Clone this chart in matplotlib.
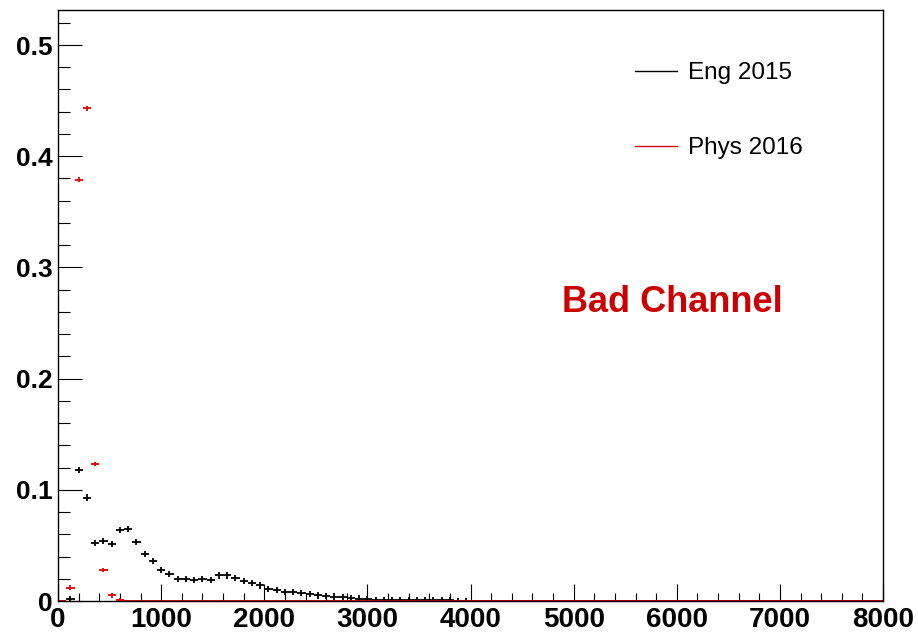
import matplotlib
matplotlib.use('Agg')
import matplotlib.pyplot as plt
from matplotlib.ticker import MultipleLocator, FuncFormatter
from matplotlib.lines import Line2D
import numpy as np

plt.rcParams['font.family'] = ['Liberation Sans', 'DejaVu Sans']

# histogram binning: 100 bins from 0 to 8000
bin_edges = np.linspace(0, 8000, 101)
bin_centers = 0.5 * (bin_edges[:-1] + bin_edges[1:])
bin_half = 0.5 * (bin_edges[1] - bin_edges[0])

# Eng 2015 (black), first 50 bins, rest empty
eng_2015_head = [0.0, 0.002, 0.118, 0.093, 0.052, 0.054, 0.051, 0.064, 0.065, 0.053,
                 0.042, 0.036, 0.028, 0.024, 0.020, 0.020, 0.019, 0.020, 0.019, 0.023,
                 0.023, 0.021, 0.018, 0.016, 0.014, 0.011, 0.010, 0.008, 0.008, 0.007,
                 0.006, 0.005, 0.0045, 0.004, 0.0033, 0.0025, 0.0022, 0.0015, 0.0012, 0.001,
                 0.001, 0.0008, 0.0008, 0.0007, 0.0006, 0.0008, 0.0006, 0.0005, 0.0003, 0.0003]
eng_2015 = np.array(eng_2015_head + [0.0] * (100 - len(eng_2015_head)))

# Phys 2016 (red)
phys_2016_head = [0.0, 0.012, 0.379, 0.443, 0.123, 0.028, 0.005, 0.001]
phys_2016 = np.array(phys_2016_head + [0.0] * (100 - len(phys_2016_head)))

series_labels = ['Eng 2015', 'Phys 2016']

fig = plt.figure(figsize=(9.18, 6.32), dpi=100)
ax = fig.add_axes([0.0632, 0.049, 0.8987, 0.9352])

ax.errorbar(bin_centers, eng_2015, xerr=bin_half,
            yerr=np.where(eng_2015 > 0, 0.0028, 0.0),
            fmt='none', ecolor='black', elinewidth=1.3, capsize=0)
ax.errorbar(bin_centers, phys_2016, xerr=bin_half,
            yerr=np.where(phys_2016 > 0, 0.002, 0.0),
            fmt='none', ecolor='#e00000', elinewidth=1.3, capsize=0)

ax.set_xlim(0, 8000)
ax.set_ylim(0, 0.5315)

ax.xaxis.set_major_locator(MultipleLocator(1000))
ax.xaxis.set_minor_locator(MultipleLocator(200))
ax.yaxis.set_major_locator(MultipleLocator(0.1))
ax.yaxis.set_minor_locator(MultipleLocator(0.02))
ax.yaxis.set_major_formatter(FuncFormatter(lambda v, p: '0' if abs(v) < 1e-9 else '%g' % v))

ax.tick_params(axis='x', which='major', direction='in', length=12.5, width=0.8,
               labelsize=20, pad=4)
ax.tick_params(axis='x', which='minor', direction='in', length=6, width=0.8)
ax.tick_params(axis='y', which='major', direction='in', length=17.5, width=0.8,
               labelsize=19, pad=4)
ax.tick_params(axis='y', which='minor', direction='in', length=8.5, width=0.8)
for lab in ax.get_xticklabels() + ax.get_yticklabels():
    lab.set_fontweight('bold')

for sp in ax.spines.values():
    sp.set_linewidth(1.0)

handles = [Line2D([], [], color='black', lw=1.0),
           Line2D([], [], color='#e00000', lw=1.0)]
ax.legend(handles, series_labels, loc='upper left', bbox_to_anchor=(0.699, 0.912),
          frameon=False, fontsize=17.5, handlelength=1.75, handletextpad=0.45,
          labelspacing=2.2, borderpad=0, borderaxespad=0)

ax.text(0.745, 0.505, 'Bad Channel', transform=ax.transAxes, color='#cc0000',
        fontsize=26, fontweight='bold', ha='center', va='center')

plt.savefig('out.png', dpi=100)
